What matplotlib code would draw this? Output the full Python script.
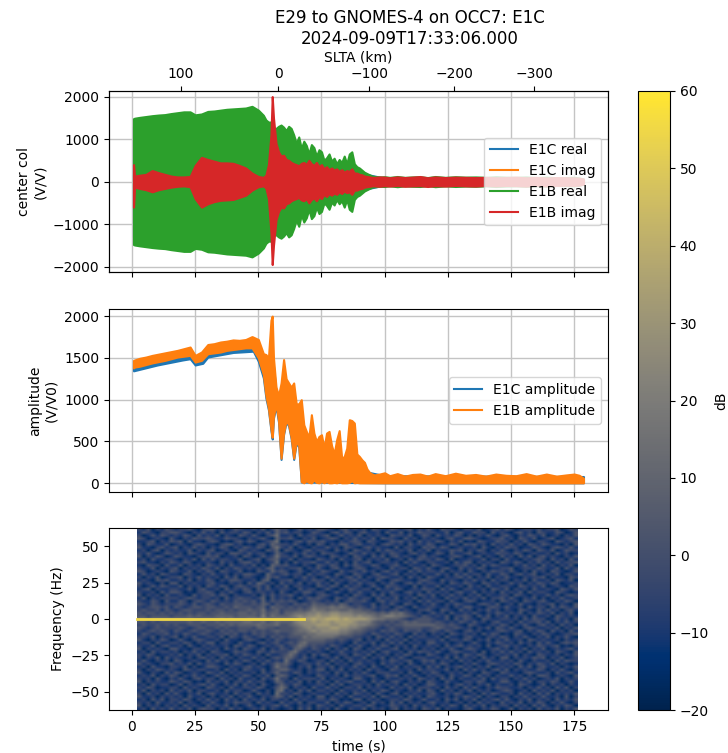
import numpy as np
import matplotlib
matplotlib.use("Agg")
import matplotlib.pyplot as plt


T_TOP = [
    0.6, 1, 3, 5.5, 8, 10.5, 13, 15.5, 18, 20.5, 23,
    25, 27.5, 30, 32.5, 35, 37.5, 40, 42.5, 45, 47.5, 50,
    52, 53, 54, 55, 55.5,
    56, 57, 58, 59, 60, 61, 62, 63, 64, 65,
    66, 67, 68, 69, 70, 71, 72, 73, 74, 75,
    76, 77, 78, 79, 80, 81, 82, 83, 84, 85,
    86, 87, 88, 89, 90, 91, 92, 93, 94, 95,
    96, 98, 100, 102, 105, 108, 111, 114, 117, 120, 124, 128, 132,
    136, 140, 144, 148, 152, 156, 160, 164, 168, 172, 175, 177, 178.7,
]

E1B_REAL_ENV = [
    1480, 1490, 1510, 1530, 1550, 1565, 1575, 1600, 1620, 1640, 1640,
    1570, 1590, 1650, 1660, 1680, 1700, 1710, 1720, 1730, 1770, 1680,
    1560, 1450, 1400, 1400, 1100,
    950, 1250, 1300, 1330, 1280, 1200, 1300, 1250, 1100, 900,
    1050, 780, 950, 850, 650, 870, 800, 600, 750, 700,
    500, 560, 650, 480, 550, 420, 520, 450, 600, 420,
    650, 700, 420, 350, 320, 270, 220, 190, 160, 130,
    120, 110, 115, 100, 120, 100, 110, 115, 95, 120, 100, 115, 105,
    110, 100, 115, 105, 100, 110, 95, 105, 90, 95, 100, 85, 60,
]

E1B_IMAG_HI = [
    400, 130, 150, 170, 260, 210, 170, 130, 110, 110, 120,
    380, 570, 520, 480, 440, 440, 430, 380, 320, 200, 120,
    100, 150, 400, 1100, 2000,
    1500, 900, 700, 600, 620, 520, 500, 450, 420, 400,
    370, 430, 450, 400, 500, 420, 380, 450, 350, 400,
    300, 350, 280, 320, 270, 300, 240, 280, 220, 260,
    240, 300, 200, 200, 170, 160, 130, 120, 110, 100,
    100, 110, 105, 90, 110, 95, 105, 120, 90, 110, 95, 105, 100,
    95, 100, 90, 95, 105, 90, 100, 85, 95, 90, 85, 80, 60,
]

E1B_IMAG_LO = [
    -600, -130, -160, -190, -240, -190, -160, -130, -110, -100, -120,
    -400, -600, -520, -470, -440, -430, -420, -370, -320, -200, -120,
    -100, -150, -400, -1200, -1950,
    -1500, -900, -700, -600, -620, -520, -500, -450, -420, -400,
    -370, -430, -450, -400, -500, -420, -380, -450, -350, -400,
    -300, -350, -280, -320, -270, -300, -240, -280, -220, -260,
    -240, -300, -200, -200, -170, -160, -130, -120, -110, -100,
    -100, -110, -95, -105, -90, -110, -100, -95, -115, -95, -105, -90, -100,
    -105, -90, -100, -90, -95, -105, -85, -100, -90, -85, -90, -80, -60,
]

E1B_AMP_HI = [
    1470, 1475, 1495, 1510, 1530, 1545, 1560, 1575, 1590, 1610, 1630,
    1530, 1570, 1660, 1670, 1690, 1700, 1715, 1710, 1720, 1755, 1720,
    1550, 1540, 1500, 1950, 2000,
    1500, 1150, 1050, 1200, 1480, 1250, 1200, 1150, 1200, 950,
    950, 1000, 700, 620, 550, 820, 600, 500, 560, 580,
    420, 600, 620, 450, 350, 520, 630, 300, 320, 420,
    760, 750, 720, 350, 320, 280, 250, 170, 130, 110,
    100, 110, 125, 90, 115, 85, 105, 110, 85, 115, 90, 120, 95,
    105, 85, 110, 95, 90, 115, 85, 110, 85, 100, 110, 95, 60,
]

E1B_AMP_LO = [
    1380, 1390, 1400, 1420, 1440, 1455, 1470, 1490, 1510, 1520, 1530,
    1450, 1470, 1550, 1560, 1570, 1590, 1600, 1610, 1620, 1620, 1500,
    1300, 1050, 900, 650, 550,
    800, 950, 750, 300, 600, 750, 700, 550, 300, 500,
    450, 20, 5, 30, 10, 5, 40, 10, 5, 20,
    5, 20, 5, 5, 10, 5, 15, 5, 5, 5,
    10, 30, 5, 10, 5, 5, 5, 5, 5, 5,
    5, 5, 5, 5, 5, 5, 5, 5, 5, 5, 5, 5, 5,
    5, 5, 5, 5, 5, 5, 5, 5, 5, 5, 5, 5, 5,
]

T_E1C = [0.6, 10, 20, 23, 25, 28, 30, 40, 48, 50, 52, 53, 54, 55, 55.5, 56, 57, 58, 59, 60, 61, 62, 63, 64, 65, 66, 67, 100, 178.7]
E1C_AMP_HI = [1410, 1480, 1540, 1550, 1480, 1510, 1570, 1610, 1630, 1560, 1450, 1400, 1400, 1500, 1500, 1400, 1100, 1000, 1100, 1250, 1200, 1100, 1100, 1100, 900, 900, 300, 90, 80]
E1C_AMP_LO = [1345, 1415, 1475, 1490, 1415, 1435, 1510, 1565, 1580, 1460, 1260, 1020, 880, 630, 530, 780, 930, 730, 285, 585, 735, 685, 535, 285, 485, 435, 15, 5, 5]
E1C_REAL_ENV = [1300, 1350, 1400, 1420, 1370, 1390, 1440, 1480, 1500, 1400, 1300, 1200, 1100, 900, 900, 900, 900, 900, 900, 900, 850, 800, 750, 700, 600, 600, 500, 80, 50]
E1C_IMAG_ENV = [150, 150, 100, 120, 400, 350, 300, 280, 150, 100, 100, 130, 300, 800, 800, 800, 600, 500, 500, 500, 450, 450, 400, 400, 400, 400, 350, 70, 50]

SLTA_TICK_T = [19.4, 57.8, 94, 127.6, 159.3]
SLTA_TICK_LABELS = ["100", "0", "\u2212100", "\u2212200", "\u2212300"]

# spectrogram cells, digit d means -16 + 6 * d dB, top row is the highest frequency
SPEC_ROWS = [
    "21302132 12231023 31201321 12130242 20131213 32102312 12032113 21230213 10322102 21301231 32012213 12230132",
    "13210223 32102131 20312213 20213142 31220132 10231320 23112031 13021322 21130231 13220312 10231203 21132013",
    "20131321 21320312 13021032 13102351 12031221 23013121 30212103 22130132 03121320 20213102 31021321 30120213",
    "32012103 10213223 21132210 21231042 23102130 12320213 12130322 10312021 21023113 32101223 12032130 12301231",
    "11230213 23031102 32010231 32012350 10231322 31102123 20321013 23120312 13202130 10321132 20213102 21032123",
    "20321130 12102321 10233120 10231432 21310203 20213312 31120232 12031213 20113203 23120312 13120321 32110203",
    "31102312 30213120 21320213 21320352 13021021 13120321 02312110 30221032 31320121 12031021 32201132 10232131",
    "12023021 21130212 30121032 12103240 32102312 21031203 21203132 12130213 02113230 21320213 10213203 21301322",
    "21310132 12032103 12203321 31220142 10213120 32210132 13120213 21023120 13203112 30121132 21320121 12031201",
    "30213201 32110223 23011203 20131252 21302321 10321203 21031302 31210231 21012320 12302103 12031302 31210213",
    "12031122 10213031 31221130 12302341 13021103 21203112 30212130 12031322 13203011 21130220 31102123 20312031",
    "23110213 21320112 10312023 31201250 20312231 13120203 12301221 20313102 21120313 30212103 21320213 12031223",
    "10322031 13021203 21203112 13020432 31102103 21320313 21132012 31021120 32101223 12031321 10213120 31202130",
    "21130212 30212132 13021321 21213412 12230213 10231102 32012103 12203213 10231031 21320112 23012213 21130312",
    "32012103 21130213 20321130 10321423 20131021 32103122 13120231 21031312 21302120 31021322 13102031 20321013",
    "13120321 10321021 31120213 32104212 31220312 21032103 21023112 30212021 13120313 12203113 20231230 12130221",
    "20213012 23021312 12031302 21014231 10213120 13120231 30212321 12031203 21021231 30213021 31102122 30211032",
    "12103231 12130213 20213321 12034012 23012132 20312123 12103102 32110232 10312102 13120312 20213031 12032130",
    "31210203 30212112 31102120 31431203 12130213 12031021 31220213 10231312 21203213 21032120 13120213 21320112",
    "20131321 13021203 21320232 12313021 30221103 21320312 20131032 21103021 13021120 31203112 21032121 30121032",
    "12302112 21130231 12031213 20313112 21031220 13102132 12203121 32012132 20313102 21120321 30212031 12103213",
    "21120313 32010223 20213102 31221203 10213312 20131021 31120213 10231203 12120231 13021203 12130312 21032101",
    "30212031 12103122 31320211 12031312 23102102 32110203 21031302 21120321 30213120 21302112 20321021 13120232",
    "13021222 21232122 12031232 21240312 12031323 21032132 12203121 30213021 21031213 12130223 13102130 20213112",
    "21132031 13202321 32121323 23141323 23201232 12130232 23102312 21120313 12203102 32011203 21203212 31021320",
    "32132122 23213123 21322332 23243132 21323243 32324312 21130213 10321021 31021321 10232130 12031102 12302103",
    "21233231 32123323 32232433 32341433 23232354 44545432 32131220 23103112 21120213 31102321 31120312 20313213",
    "23223132 12332223 23323233 43352342 33343465 54554454 43321212 31210223 10321031 20213120 21032103 13120231",
    "32332323 23232332 33433344 34353442 44555667 66776665 55443435 45321201 31203112 13102132 12130213 21302130",
    "33233332 33343433 34444344 44363544 45676778 77887776 76654566 55432132 12130223 20313021 30212031 12032121",
    "55455555 55555455 55656555 66666566 66688898 89998988 88765544 43212333 21130313 21032112 21203132 20131203",
    "33232333 33343343 34344445 54453454 44677787 88788887 66643323 23434333 23212132 13120231 12031223 13021312",
    "23223232 32233323 33434344 44544453 34567778 88778877 66543232 33444444 43323210 32101213 20213102 31203120",
    "32123222 23212332 23232233 32443323 33456767 77887766 54332123 22333322 34322321 20213032 13102321 12130213",
    "21232321 32123223 21323233 23232343 33455676 77776654 43221323 21322312 32132102 31201123 21230213 20312031",
    "13212231 21321232 12232312 13232232 23444556 66665543 32132121 32103120 21203212 12031320 10321021 32101223",
    "22130212 30213112 21303213 21231323 23335455 55543332 21203213 12031221 12031102 31102213 20213102 13021310",
    "31021320 13102321 12031102 32102132 12234444 43323212 30212031 21302112 21302213 20213021 31120321 21120212",
    "12203112 21320213 30221031 10231231 23245333 32212103 12130213 13021203 31120120 13102132 12031203 13102323",
    "21130231 12031021 21120321 32012123 12354232 21321021 31021320 21203112 12031231 21203012 31210213 21230102",
    "30212103 31102212 12031203 21130213 21442132 13021303 20213112 30212021 20213102 32101231 20213021 30121231",
    "12031221 20213120 32101322 10321322 24521212 10213112 12130231 12031322 13102321 12030213 13120312 12032103",
    "21320112 13021302 12230213 21203112 35312031 32012203 21302120 21320103 21021203 21320121 21302103 21120213",
    "20213031 21120231 20312021 13120232 44213120 12130221 13021302 13102221 12130312 12031203 30212132 30213012",
    "13102120 32012103 13120213 20213121 52132012 20312031 21210213 21230132 30212031 20213112 12031021 12031322",
    "31210223 12130312 21031320 12031243 42012213 13021202 31120312 12031021 21320102 13102321 21320213 21302101",
    "12031102 21302013 32102112 31210253 31021302 21302113 12031021 30212203 13021231 20213012 12031302 31120213",
    "20213212 10321221 12031203 21130234 42120213 30213021 20312103 21120312 21130203 13120231 30212113 20213102",
    "31021031 32012103 21302121 12031242 21320212 12031202 13102221 12031021 32012120 21032103 21102321 12031231",
    "12130213 20213120 13120213 20213034 31021103 21120312 21230132 30213102 12203113 20312021 13120203 32012103",
    "21203102 13102312 20312031 12031252 20312221 30212103 31021021 12120321 20313021 12130312 20213120 12130212",
    "30212113 21320103 12130221 31220143 12130203 12031231 12031302 31021203 21031102 21320113 31021302 21320131",
    "12031220 13021231 31021303 12031024 21320112 20313012 21203121 20312013 31120231 20213021 12032101 30212021",
    "21320112 20312103 21203112 21320135 30212031 13120221 30212103 12130222 12031203 13102132 21120213 12031302",
    "13021203 12130221 12031220 13102045 12031302 21203112 13021320 21021303 20312021 30212012 32012031 21302120",
    "20312031 31021302 31120312 20312052 21320121 12031203 21203102 30212112 31021320 12031321 12031203 13021213",
    "31120212 12031120 20213021 31021243 13021203 30212031 12130321 12031203 21120213 21302102 20213121 31120302",
    "12031302 21320213 12031203 12130221 20312112 21320103 30212012 21320131 12031302 13021231 31021302 12031213",
    "21203112 13021021 31021322 20312103 12130221 13021320 12031203 13021202 31120120 20312103 12130213 20213102",
    "30212021 20312103 12130201 31021231 31021203 21203112 21320113 21203121 20213203 12130212 20312031 31021320",
    "12031213 12130232 20213120 12130210 12031302 12031021 13021202 30212032 13021102 31021320 13021203 12130213",
]

SPEC_T = [2, 176.5]
SPEC_F = [-62.5, 62.5]
CARRIER_T = [2, 68]
CARRIER_F = [0, 0]


def px_axes(fig, left, top, right, bottom):
    w, h = fig.get_size_inches() * fig.dpi
    return fig.add_axes([left / w, 1 - bottom / h, (right - left) / w, (bottom - top) / h])


def band(ax, t, lo, hi, color, zorder=2):
    ax.fill_between(t, lo, hi, color=color, linewidth=1.5, zorder=zorder)


def main():
    fig = plt.figure(figsize=(7.28, 7.53), dpi=100)

    ax1 = px_axes(fig, 109, 91, 608, 272)
    ax2 = px_axes(fig, 109, 309, 608, 492)
    ax3 = px_axes(fig, 109, 528, 608, 710)
    cax = px_axes(fig, 638, 91, 670, 710)

    real_env = np.array(E1B_REAL_ENV)
    c_real = np.array(E1C_REAL_ENV)
    c_imag = np.array(E1C_IMAG_ENV)
    band(ax1, T_E1C, -c_real, c_real, "C0")
    band(ax1, T_E1C, -c_imag, c_imag, "C1")
    band(ax1, T_TOP, -real_env, real_env, "C2")
    band(ax1, T_TOP, E1B_IMAG_LO, E1B_IMAG_HI, "C3")
    for color, label in zip(["C0", "C1", "C2", "C3"], ["E1C real", "E1C imag", "E1B real", "E1B imag"]):
        ax1.plot([], [], color=color, label=label)
    ax1.set_ylim(-2125, 2130)
    ax1.set_ylabel("center col\n(V/V)")
    ax1.legend(loc="center right")
    ax1.grid(True, color="#c4c4c4", linewidth=1.0)

    band(ax2, T_E1C, E1C_AMP_LO, E1C_AMP_HI, "C0")
    band(ax2, T_TOP, E1B_AMP_LO, E1B_AMP_HI, "C1")
    ax2.plot([], [], color="C0", label="E1C amplitude")
    ax2.plot([], [], color="C1", label="E1B amplitude")
    ax2.set_ylim(-105, 2085)
    ax2.set_ylabel("amplitude\n(V/V0)")
    ax2.legend(loc="center right")
    ax2.grid(True, color="#c4c4c4", linewidth=1.0)

    spec = np.array([[-16 + 6 * int(ch) for ch in row.replace(" ", "")] for row in SPEC_ROWS])
    im = ax3.imshow(spec, cmap="cividis", vmin=-20, vmax=60, aspect="auto",
                    interpolation="bilinear", origin="upper",
                    extent=[SPEC_T[0], SPEC_T[1], SPEC_F[0], SPEC_F[1]])
    ax3.plot(CARRIER_T, CARRIER_F, color=plt.get_cmap("cividis")(0.93), linewidth=2)
    ax3.set_ylim(-62.5, 62.5)
    ax3.set_yticks([-50, -25, 0, 25, 50])
    ax3.set_ylabel("Frequency (Hz)")
    ax3.set_xlabel("time (s)")

    for ax in (ax1, ax2, ax3):
        ax.set_xlim(-9.1, 188.4)
        ax.set_xticks(range(0, 176, 25))
    ax1.tick_params(labelbottom=False)
    ax2.tick_params(labelbottom=False)

    top = ax1.twiny()
    top.set_xlim(ax1.get_xlim())
    top.set_xticks(SLTA_TICK_T)
    top.set_xticklabels(SLTA_TICK_LABELS)
    top.set_xlabel("SLTA (km)")

    cbar = fig.colorbar(im, cax=cax)
    cbar.set_ticks(range(-20, 61, 10))
    cbar.set_label("dB")

    fig.text(410 / 728, 1 - 9 / 753, "E29 to GNOMES-4 on OCC7: E1C\n2024-09-09T17:33:06.000",
             ha="center", va="top", fontsize=12)

    fig.savefig("out.png", dpi=100)


if __name__ == "__main__":
    main()
